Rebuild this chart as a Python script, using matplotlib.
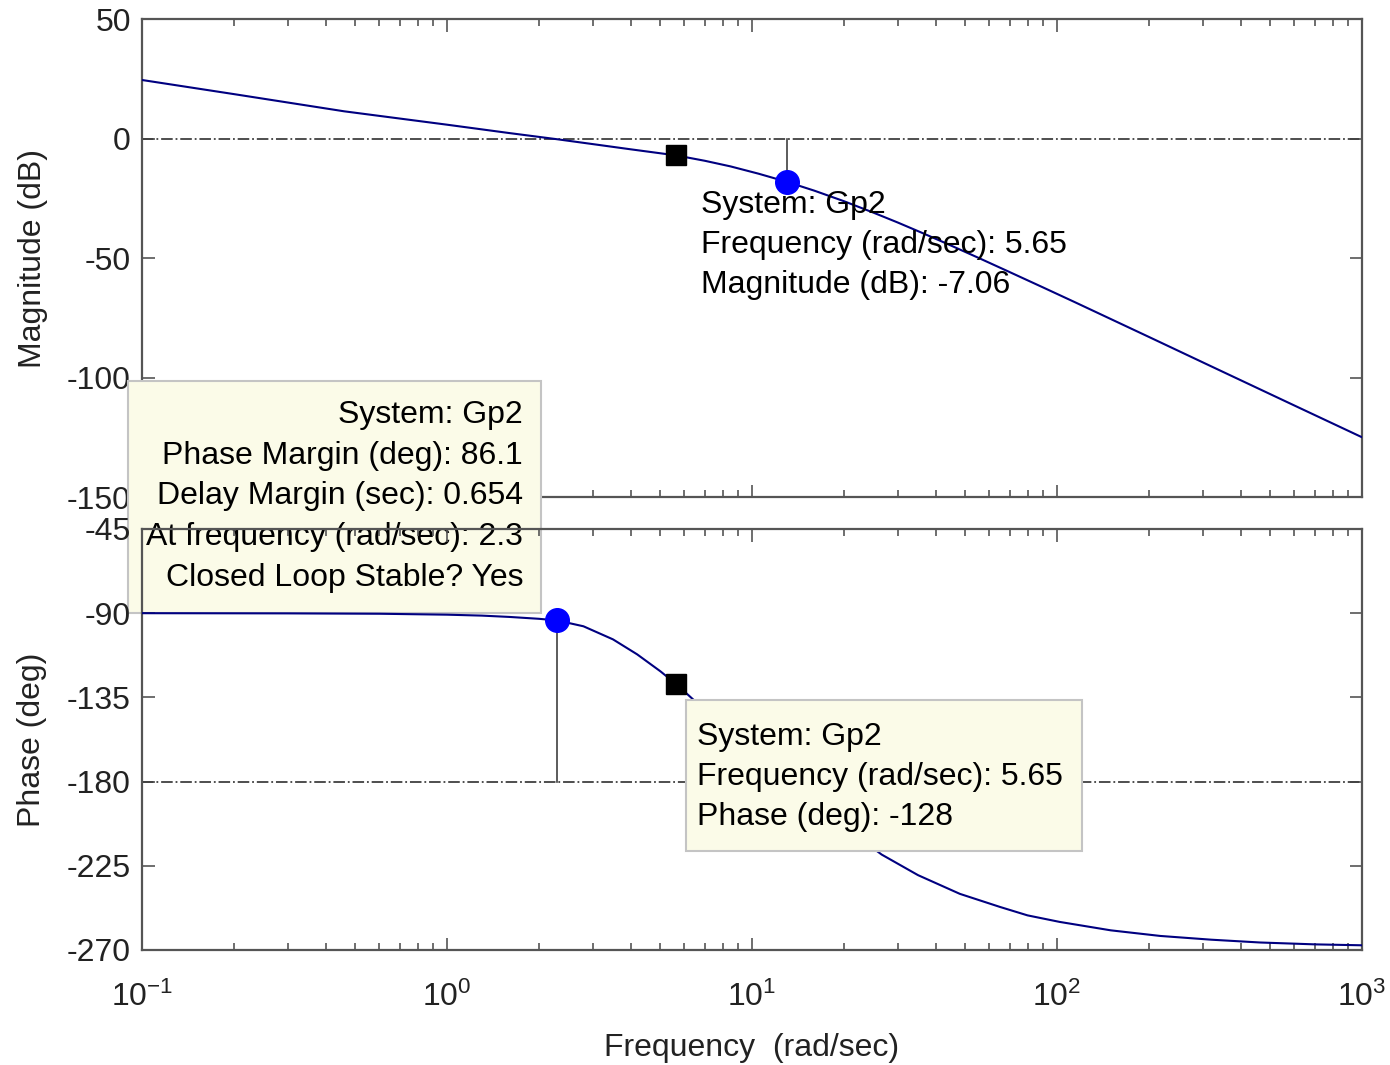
import matplotlib.pyplot as plt
from matplotlib.patches import Rectangle

plt.rcParams['font.family'] = ['Liberation Sans', 'DejaVu Sans']
plt.rcParams['mathtext.fontset'] = 'custom'
plt.rcParams['mathtext.rm'] = 'Liberation Sans'
plt.rcParams['mathtext.it'] = 'Liberation Sans'
plt.rcParams['font.size'] = 23

# Bode data (system Gp2)
mag_w = [0.1, 0.2, 0.46, 1.0, 1.6, 2.3, 3.2, 4.0, 5.65, 7.0, 8.5, 10.5, 13, 16, 20, 25,
         30, 36, 43, 55, 70, 90, 115, 200, 314, 600, 1000]
mag_db = [24.5, 18.6, 11.4, 5.8, 2.3, -0.3, -2.8, -4.5, -7.06, -9.3, -11.65, -14.7, -18.1,
          -21.8, -26.2, -31.0, -35.1, -39.4, -43.7, -49.8, -55.9, -62.3, -68.6, -83.0,
          -94.8, -111.7, -125.0]

ph_w = [0.1, 0.3, 0.6, 1.0, 1.3, 1.6, 2.0, 2.3, 2.8, 3.5, 4.2, 5.0, 5.65, 6.5, 8.0, 10,
        13, 16, 20, 26.6, 35, 48, 65, 80, 102, 150, 218, 320, 463, 700, 1000]
ph_deg = [-90, -90.1, -90.3, -90.8, -91.3, -92.0, -93.0, -93.9, -97, -104, -112, -121,
          -128, -137, -150, -165, -180, -192, -204, -219, -230, -240, -247, -251.5, -255,
          -259.5, -262.5, -264.5, -266, -267, -267.5]

# markers
tip_freq = 5.65
tip_mag = -7.06
tip_phase = -128
gm_freq = 13.0
gm_mag = -18.1
pm_freq = 2.3
pm_phase = -93.9

mag_ticks = [50, 0, -50, -100, -150]
ph_ticks = [-45, -90, -135, -180, -225, -270]

line_col = '#000080'
spine_col = '#555555'
text_col = '#222222'
tip_face = '#FBFBE8'
tip_edge = '#C4C4C4'

fig = plt.figure(figsize=(13.9, 10.65), dpi=100)
fig.patch.set_facecolor('white')

ax1 = fig.add_axes([0.1022, 0.5333, 0.8777, 0.4488])
ax2 = fig.add_axes([0.1022, 0.1080, 0.8777, 0.3953], sharex=ax1)
ax2.set_facecolor('none')

for ax in (ax1, ax2):
    ax.set_xscale('log')
    ax.set_xlim(0.1, 1000)
    for sp in ax.spines.values():
        sp.set_color(spine_col)
        sp.set_linewidth(1.6)
    ax.tick_params(which='both', direction='in', top=True, right=True,
                   colors=spine_col, labelcolor=text_col, width=1.2)
    ax.tick_params(which='major', length=9, pad=8)
    ax.tick_params(which='minor', length=5)
    ax.tick_params(axis='y', which='minor', left=False, right=False)
ax2.tick_params(axis='x', which='major', pad=23)

# --- magnitude ---
ax1.plot(mag_w, mag_db, color=line_col, lw=1.5, zorder=3)
ax1.axhline(0, color='#404040', lw=1.3, ls='-.', zorder=2)
ax1.set_ylim(-150, 50)
ax1.set_yticks(mag_ticks)
ax1.set_yticklabels(['50', '0', '-50', '-100', '-150'])
ax1.tick_params(axis='x', labelbottom=False)
ax1.set_ylabel('Magnitude (dB)', color=text_col, labelpad=14)

ax1.plot([gm_freq, gm_freq], [0, gm_mag], color='#404040', lw=1.2, zorder=3)
ax1.plot(gm_freq, gm_mag, 'o', color='#0000FF', ms=17, zorder=4)
ax1.plot(tip_freq, tip_mag, 's', color='black', ms=15, zorder=4)

ax1.text(0.4585, 0.642, 'System: Gp2\nFrequency (rad/sec): 5.65\nMagnitude (dB): -7.06',
         transform=ax1.transAxes, ha='left', va='top', color='black',
         linespacing=1.43, zorder=6)

# phase margin tip box (spans across both panels)
pm_box = Rectangle((-0.0115, -0.2426), 0.3385, 0.4854, transform=ax1.transAxes,
                   facecolor=tip_face, edgecolor=tip_edge, lw=1.5,
                   clip_on=False, zorder=10)
ax1.add_patch(pm_box)
ax1.text(0.3123, 0.2025,
         'System: Gp2\nPhase Margin (deg): 86.1\nDelay Margin (sec): 0.654\n'
         'At frequency (rad/sec): 2.3\nClosed Loop Stable? Yes',
         transform=ax1.transAxes, ha='right', va='top', color='black',
         linespacing=1.46, clip_on=False, zorder=11)

# --- phase ---
ax2.plot(ph_w, ph_deg, color=line_col, lw=1.5, zorder=3)
ax2.axhline(-180, color='#404040', lw=1.3, ls='-.', zorder=2)
ax2.set_ylim(-270, -45)
ax2.set_yticks(ph_ticks)
ax2.set_yticklabels(['-45', '-90', '-135', '-180', '-225', '-270'])
ax2.set_ylabel('Phase (deg)', color=text_col, labelpad=14)
ax2.set_xlabel('Frequency  (rad/sec)', color=text_col, labelpad=14)

ax2.plot([pm_freq, pm_freq], [pm_phase, -180], color='#404040', lw=1.2, zorder=3)
ax2.plot(pm_freq, pm_phase, 'o', color='#0000FF', ms=17, zorder=4)
ax2.plot(tip_freq, tip_phase, 's', color='black', ms=15, zorder=4)

ph_box = Rectangle((0.4459, 0.2351), 0.3246, 0.3587, transform=ax2.transAxes,
                   facecolor=tip_face, edgecolor=tip_edge, lw=1.5, zorder=8)
ax2.add_patch(ph_box)
ax2.text(0.4549, 0.541, 'System: Gp2\nFrequency (rad/sec): 5.65\nPhase (deg): -128',
         transform=ax2.transAxes, ha='left', va='top', color='black',
         linespacing=1.43, zorder=9)

fig.savefig('out.png', dpi=100, facecolor='white')
